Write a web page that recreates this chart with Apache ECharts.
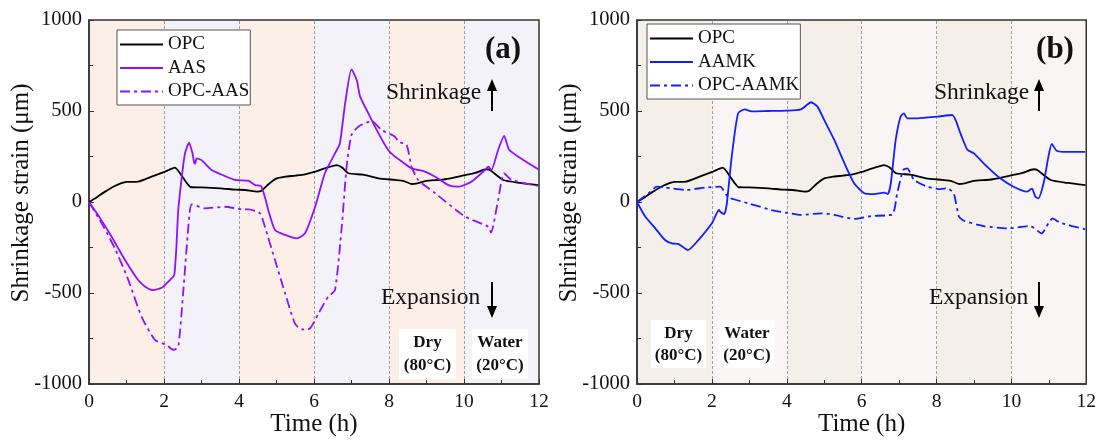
<!DOCTYPE html>
<html>
<head>
<meta charset="utf-8">
<script src="https://cdn.jsdelivr.net/npm/echarts@6/dist/echarts.min.js"></script>
<style>
html,body{margin:0;padding:0;background:#fff;}
#c{width:1099px;height:446px;}
</style>
</head>
<body>
<div id="c"></div>
<script>
// ---------- data ----------
const xTicks = [0, 2, 4, 6, 8, 10, 12];
const yTicks = [-1000, -500, 0, 500, 1000];
const phaseLines = [2, 4, 6, 8, 10];

const OPC = [[0,0],[0.2,25],[0.43,57],[0.69,88],[1.0,110],[1.31,112],[1.67,139],[2.03,167],[2.29,189],[2.52,130],[2.72,81],[3.0,80],[3.5,75],[3.9,68],[4.16,66],[4.5,57],[4.6,62],[4.8,100],[5.0,130],[5.23,139],[5.5,145],[5.76,152],[6.0,165],[6.29,185],[6.6,203],[6.75,190],[6.92,158],[7.3,150],[7.72,130],[8.16,121],[8.4,115],[8.6,99],[8.75,102],[8.96,115],[9.5,125],[10.03,148],[10.3,160],[10.6,180],[10.7,175],[11.05,121],[11.5,105],[11.98,93]];

const AAS = [[0,0],[0.3,-90],[0.6,-190],[0.96,-319],[1.31,-429],[1.5,-465],[1.71,-484],[1.9,-475],[1.98,-465],[2.16,-429],[2.2,-420],[2.25,-410],[2.28,-392],[2.33,-250],[2.38,-44],[2.47,130],[2.56,268],[2.67,326],[2.76,267],[2.8,220],[2.83,209],[2.87,240],[3.0,230],[3.27,176],[3.6,145],[3.89,121],[4.25,117],[4.43,93],[4.55,90],[4.6,84],[4.7,20],[4.78,-44],[4.96,-154],[5.23,-181],[5.54,-200],[5.76,-172],[6.03,-26],[6.29,158],[6.56,267],[6.69,322],[6.83,542],[7.0,729],[7.14,670],[7.23,579],[7.45,487],[7.72,377],[7.98,286],[8.16,249],[8.34,222],[8.6,185],[8.8,175],[8.96,167],[9.23,139],[9.58,93],[9.85,84],[10.2,112],[10.56,176],[10.65,194],[10.73,176],[10.91,286],[11.07,363],[11.2,289],[11.45,249],[11.98,180]];

const OPC_AAS = [[0,0],[0.4,-140],[0.69,-255],[1.05,-429],[1.4,-630],[1.76,-758],[2.07,-786],[2.25,-813],[2.38,-795],[2.51,-502],[2.65,-136],[2.74,-13],[3.09,-35],[3.63,-26],[4.07,-40],[4.25,-40],[4.56,-62],[4.69,-136],[4.96,-319],[5.23,-502],[5.49,-667],[5.67,-700],[5.89,-695],[6.12,-612],[6.38,-520],[6.56,-484],[6.74,-136],[6.87,194],[7.0,368],[7.18,414],[7.54,445],[7.8,396],[8.16,359],[8.25,332],[8.47,313],[8.6,194],[8.78,121],[9.23,48],[10.03,-80],[10.65,-136],[10.72,-168],[10.91,11],[11.07,158],[11.27,121],[11.98,88]];

const AAMK = [[0,0],[0.22,-80],[0.49,-145],[0.75,-209],[0.93,-227],[1.1,-230],[1.36,-264],[1.64,-209],[2.0,-117],[2.19,-44],[2.23,-55],[2.33,-66],[2.4,-7],[2.53,249],[2.7,487],[2.88,509],[3.06,498],[3.5,500],[3.99,502],[4.38,509],[4.65,548],[4.82,524],[5.0,451],[5.27,341],[5.54,213],[5.8,103],[6.07,48],[6.33,43],[6.6,51],[6.7,44],[6.78,103],[6.91,341],[7.04,469],[7.13,487],[7.22,460],[7.49,460],[8.02,469],[8.42,478],[8.64,377],[8.82,289],[9.0,267],[9.35,194],[9.7,130],[10.06,84],[10.41,57],[10.55,73],[10.64,29],[10.72,20],[10.86,103],[10.99,249],[11.08,319],[11.21,282],[11.48,275],[11.97,275]];

const OPC_AAMK = [[0,0],[0.31,48],[0.53,84],[0.75,80],[1.29,66],[1.82,79],[2.22,84],[2.44,26],[2.97,-7],[3.59,-44],[3.99,-59],[4.38,-71],[4.92,-62],[5.27,-71],[5.8,-93],[6.25,-77],[6.82,-68],[6.95,48],[7.11,176],[7.22,185],[7.4,121],[7.75,84],[8.11,71],[8.28,75],[8.46,48],[8.6,-80],[8.73,-103],[9.26,-132],[9.88,-145],[10.5,-132],[10.81,-172],[10.99,-117],[11.1,-90],[11.3,-114],[11.97,-150]];

const bands = [[0,2],[2,4],[4,6],[6,8],[8,10],[10,12]];
const bandColorsA = ['#fcefe8','#f3f2f8'];
const bandColorsB = ['#f5efea','#f9f5f4'];

const legendA = ['OPC','AAS','OPC-AAS'];
const legendB = ['OPC','AAMK','OPC-AAMK'];

// ---------- chart ----------
const FONT = '"Liberation Serif", "Times New Roman", serif';
const PURPLE = '#9010ff';
const BLUE = '#1020ff';
const DASHDOT = [10,4,3,4];

function xAxis(gi){
  return {
    type:'value', gridIndex:gi, min:0, max:12, interval:2,
    name:'Time (h)', nameLocation:'middle', nameGap:28, nameMoveOverlap:false,
    nameTextStyle:{fontFamily:FONT, fontSize:25, color:'#111'},
    axisLine:{show:true, onZero:false, lineStyle:{color:'#333', width:1.5}},
    axisTick:{show:true, inside:true, length:5, lineStyle:{color:'#333'}},
    minorTick:{show:true, splitNumber:2, length:4, lineStyle:{color:'#333'}},
    axisLabel:{fontFamily:FONT, fontSize:19.5, color:'#111', margin:8,
      formatter:v=> xTicks.includes(v) ? String(v) : ''},
    splitLine:{show:false}
  };
}
function yAxis(gi){
  return {
    type:'value', gridIndex:gi, min:-1000, max:1000, interval:500,
    name:'Shrinkage strain (μm)', nameLocation:'middle', nameGap:55, nameMoveOverlap:false,
    nameTextStyle:{fontFamily:FONT, fontSize:25, color:'#111', padding:[0,0,0,18]},
    axisLine:{show:true, onZero:false, lineStyle:{color:'#333', width:1.5}},
    axisTick:{show:true, inside:true, length:5, lineStyle:{color:'#333'}},
    minorTick:{show:true, splitNumber:2, length:4, lineStyle:{color:'#333'}},
    axisLabel:{fontFamily:FONT, fontSize:20.5, color:'#111', margin:7,
      formatter:v=> yTicks.includes(v) ? String(v) : ''},
    splitLine:{show:false}
  };
}
function bandSeries(gi, colors){
  return {
    type:'line', xAxisIndex:gi, yAxisIndex:gi, data:[], z:-2, silent:true,
    markArea:{silent:true, z:-2, data: bands.map((b,i)=>[
      {xAxis:b[0], itemStyle:{color:colors[i%2], opacity:1}},
      {xAxis:b[1]}
    ])},
    markLine:{silent:true, z:-1, symbol:['none','none'], label:{show:false},
      lineStyle:{type:[3,2], color:'#a0a0a0', width:1},
      data: phaseLines.map(v=>({xAxis:v}))}
  };
}
function lineSeries(name, data, gi, color, dash){
  return {
    name, type:'line', xAxisIndex:gi, yAxisIndex:gi, data,
    symbol:'none', smooth:0.2, z:3,
    lineStyle:{color, width:1.8, type: dash ? DASHDOT : 'solid'},
    itemStyle:{color}
  };
}
function legend(left, top, names){
  return {
    data:names, orient:'vertical', left, top,
    itemWidth:43, itemHeight:14, itemGap:4.5,
    padding:[5,1,4,2],
    borderColor:'#555', borderWidth:1, backgroundColor:'#fff',
    itemStyle:{opacity:0},
    textStyle:{fontFamily:FONT, fontSize:19, color:'#111'},
    selectedMode:false
  };
}

function annText(x, y, text, opts){
  return {type:'text', x, y, z:20, style:Object.assign({
    text, font:'23.5px ' + FONT, fill:'#111', verticalAlign:'middle'
  }, opts||{})};
}
function arrow(x, y1, y2){
  const dir = y2 < y1 ? -1 : 1;
  return [
    {type:'line', z:20, shape:{x1:x, y1:y1, x2:x, y2:y2 - dir*8}, style:{stroke:'#000', lineWidth:2}},
    {type:'polygon', z:20, shape:{points:[[x-5, y2 - dir*12],[x+5, y2 - dir*12],[x, y2]]}, style:{fill:'#000'}}
  ];
}
function condBox(x, y, w, h, l1, l2){
  return [
    {type:'rect', z:20, shape:{x, y, width:w, height:h}, style:{fill:'#fff'}},
    {type:'text', z:21, x:x + w/2, y:y + h*0.28, style:{text:l1, font:'bold 17px ' + FONT, fill:'#111', align:'center', verticalAlign:'middle'}},
    {type:'text', z:21, x:x + w/2, y:y + h*0.74, style:{text:l2, font:'bold 17px ' + FONT, fill:'#111', align:'center', verticalAlign:'middle'}}
  ];
}

const graphics = [].concat(
  [annText(503, 50, '(a)', {font:'bold 31px ' + FONT, align:'center'})],
  [annText(386, 93, 'Shrinkage')],
  arrow(492, 111, 79),
  [annText(381, 298, 'Expansion')],
  arrow(492, 282, 318),
  condBox(399, 329, 57, 50, 'Dry', '(80°C)'),
  condBox(472, 329, 56, 50, 'Water', '(20°C)'),
  [annText(1055, 50, '(b)', {font:'bold 31px ' + FONT, align:'center'})],
  [annText(934, 93, 'Shrinkage')],
  arrow(1039, 111, 79),
  [annText(929, 298, 'Expansion')],
  arrow(1039, 282, 318),
  condBox(651, 320, 55, 48, 'Dry', '(80°C)'),
  condBox(719, 320, 56, 48, 'Water', '(20°C)')
);

const chart = echarts.init(document.getElementById('c'), null, {renderer:'canvas'});
chart.setOption({
  backgroundColor:'#fff',
  animation:false,
  textStyle:{fontFamily:FONT},
  grid:[
    {left:89, top:20, width:450, height:364, show:true, borderColor:'#333', borderWidth:1.5, backgroundColor:'transparent'},
    {left:637, top:20, width:451, height:364, show:true, borderColor:'#333', borderWidth:1.5, backgroundColor:'transparent'}
  ],
  xAxis:[xAxis(0), xAxis(1)],
  yAxis:[yAxis(0), yAxis(1)],
  legend:[legend(117, 30, legendA), legend(647, 24, legendB)],
  series:[
    bandSeries(0, bandColorsA),
    bandSeries(1, bandColorsB),
    lineSeries('OPC', OPC, 0, '#000', false),
    lineSeries('AAS', AAS, 0, PURPLE, false),
    lineSeries('OPC-AAS', OPC_AAS, 0, PURPLE, true),
    lineSeries('OPC', OPC, 1, '#000', false),
    lineSeries('AAMK', AAMK, 1, BLUE, false),
    lineSeries('OPC-AAMK', OPC_AAMK, 1, BLUE, true)
  ],
  graphic:{elements:graphics}
});
</script>
</body>
</html>
